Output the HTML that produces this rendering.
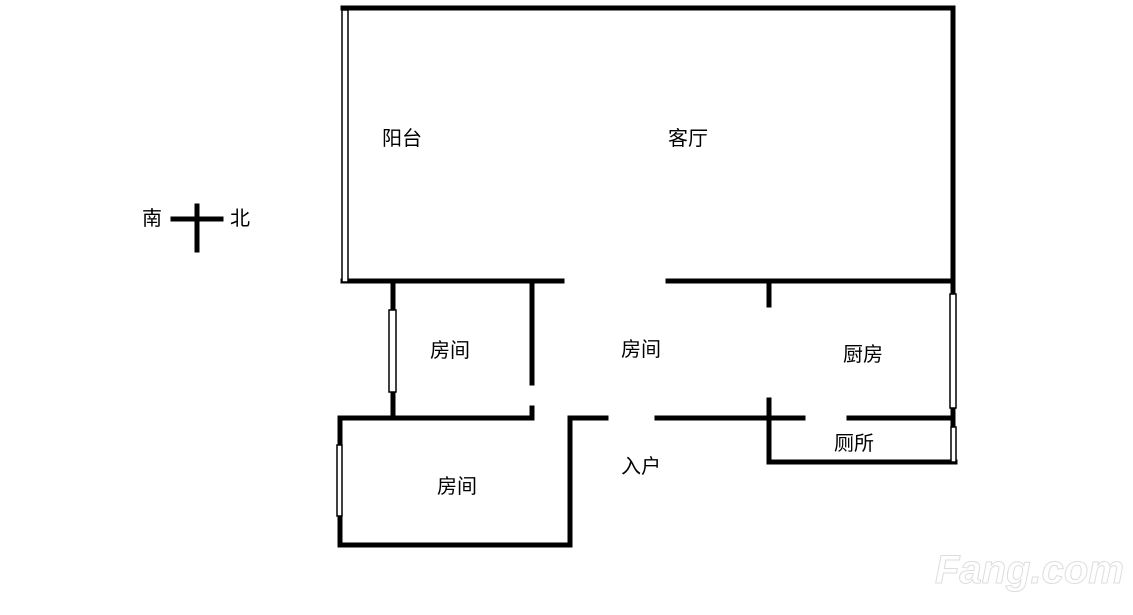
<!DOCTYPE html>
<html><head><meta charset="utf-8"><style>
html,body{margin:0;padding:0;background:#fff;}
svg{display:block;}
text{font-family:"Liberation Sans","Noto Sans CJK SC",sans-serif;font-size:20px;fill:#000;}
</style></head><body>
<svg width="1133" height="615" viewBox="0 0 1133 615" xmlns="http://www.w3.org/2000/svg">
<g stroke="#000" stroke-width="5" stroke-linecap="square" fill="none">
<line x1="343" y1="8" x2="953" y2="8"/>
<line x1="953" y1="8" x2="953" y2="294"/>
<line x1="343" y1="281" x2="562" y2="281"/>
<line x1="668" y1="281" x2="953" y2="281"/>
<line x1="393" y1="282" x2="393" y2="418"/>
<line x1="532" y1="282" x2="532" y2="383"/>
<line x1="532" y1="408" x2="532" y2="418"/>
<line x1="340" y1="418" x2="532" y2="418"/>
<line x1="340" y1="418" x2="340" y2="545"/>
<line x1="340" y1="545" x2="570" y2="545"/>
<line x1="570" y1="418" x2="570" y2="545"/>
<line x1="570" y1="418" x2="606" y2="418"/>
<line x1="657" y1="418" x2="803" y2="418"/>
<line x1="849" y1="418" x2="953" y2="418"/>
<line x1="769" y1="283" x2="769" y2="305"/>
<line x1="769" y1="400" x2="769" y2="462"/>
<line x1="769" y1="462" x2="955" y2="462"/>
<line x1="953" y1="408" x2="953" y2="428"/>
<line x1="173" y1="219" x2="221" y2="219"/>
<line x1="197" y1="206" x2="197" y2="250"/>
</g>
<g stroke="#000" stroke-width="1.5" fill="#fff">
<rect x="342" y="10" width="6" height="272"/>
<rect x="389" y="310" width="7" height="82"/>
<rect x="337" y="445" width="5" height="71"/>
<rect x="950" y="294" width="6" height="114"/>
<rect x="951" y="427" width="5" height="35"/>
</g>
<text x="382" y="145">阳台</text>
<text x="668" y="145">客厅</text>
<text x="430" y="357">房间</text>
<text x="621" y="356">房间</text>
<text x="843" y="361">厨房</text>
<text x="437" y="493">房间</text>
<text x="621" y="473">入户</text>
<text x="834" y="450">厕所</text>
<text x="142" y="225">南</text>
<text x="230" y="225">北</text>
<text x="935" y="583" style="font-size:40px;font-weight:bold;font-style:italic;fill:#fff;stroke:#ddd;stroke-width:1">Fang.com</text>
</svg>
</body></html>
